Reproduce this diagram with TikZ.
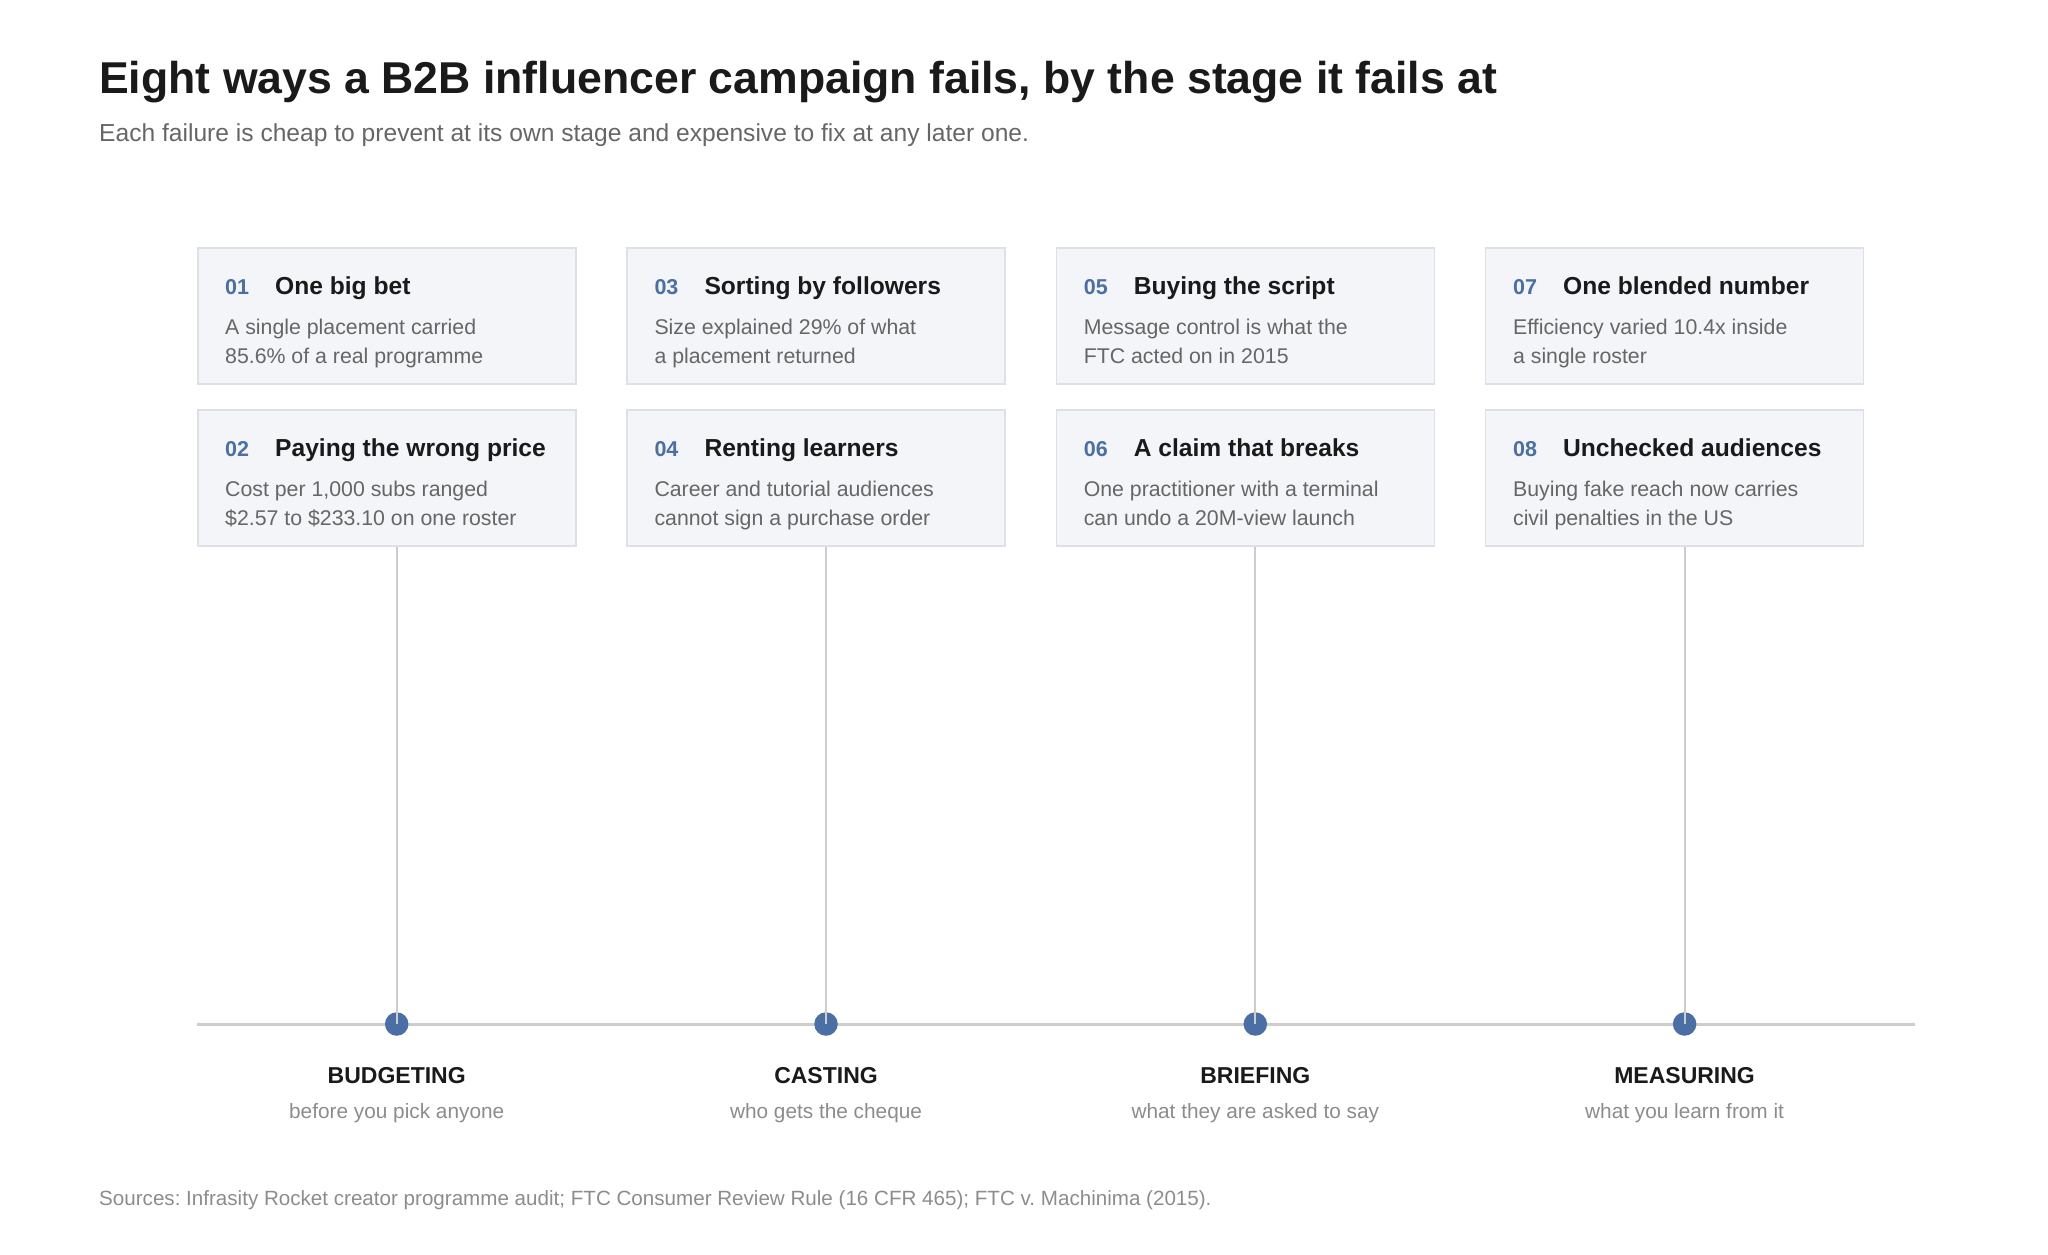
\documentclass[tikz,border=0pt]{standalone}
\usepackage{fontspec}
\setmainfont{Liberation Sans}
\usetikzlibrary{positioning}
\frenchspacing

\definecolor{cardfill}{HTML}{F4F5F9}
\definecolor{cardline}{HTML}{DDE0E6}
\definecolor{numblue}{HTML}{4A6FA5}
\definecolor{inkdark}{HTML}{1A1A1A}
\definecolor{inkbody}{HTML}{666666}
\definecolor{inklight}{HTML}{8C8C8C}
\definecolor{railgray}{HTML}{CDCDCD}

\begin{document}
\begin{tikzpicture}[x=1pt, y=-1pt, inner sep=0pt,
  card/.style={draw=cardline, fill=cardfill, line width=1.5pt, anchor=north west,
    minimum width=378pt, minimum height=136pt},
  num/.style={anchor=base west, text=numblue, font=\fontsize{21.5}{25}\selectfont\bfseries},
  cardtitle/.style={anchor=base west, text=inkdark, font=\fontsize{24.6}{29}\selectfont\bfseries},
  cardbody/.style={anchor=base west, align=left, text=inkbody, font=\fontsize{21.3}{29.3}\selectfont},
  dot/.style={circle, fill=numblue, minimum size=23.5pt},
  rail/.style={draw=railgray, line width=3pt},
  stem/.style={draw=railgray, line width=2pt},
  stagename/.style={anchor=base, text=inkdark, font=\fontsize{23}{27}\selectfont\bfseries},
  stagesub/.style={anchor=base, text=inklight, font=\fontsize{20.8}{25}\selectfont} ]

\useasboundingbox (0,0) rectangle (2048,1255);

% Heading
\node[anchor=base west, text=inkdark, font=\fontsize{44.6}{53}\selectfont\bfseries] (title) at (99,93)
  {Eight ways a B2B influencer campaign fails, by the stage it fails at};
\node[anchor=base west, text=inkbody, font=\fontsize{24.6}{29}\selectfont] (subtitle) at (99,141)
  {Each failure is cheap to prevent at its own stage and expensive to fix at any later one.};

% Failure cards
\foreach \c/\r/\k/\ttl/\la/\lb in {
  0/0/01/One big bet/A single placement carried/85.6\% of a real programme,
  0/1/02/Paying the wrong price/Cost per 1{,}000 subs ranged/\$2.57 to \$233.10 on one roster,
  1/0/03/Sorting by followers/Size explained 29\% of what/a placement returned,
  1/1/04/Renting learners/Career and tutorial audiences/cannot sign a purchase order,
  2/0/05/Buying the script/Message control is what the/FTC acted on in 2015,
  2/1/06/A claim that breaks/One practitioner with a terminal/can undo a 20M-view launch,
  3/0/07/One blended number/Efficiency varied 10.4x inside/a single roster,
  3/1/08/Unchecked audiences/Buying fake reach now carries/civil penalties in the US} {
  \node[card] (card\k) at (197+\c*429.3, 247+\r*162) {};
  \node[num] (num\k) at ([xshift=28pt, yshift=-47pt]card\k.north west) {\k};
  \node[cardtitle] (ttl\k) at ([xshift=78pt, yshift=-47pt]card\k.north west) {\ttl};
  % base anchor sits on the last line
  \node[cardbody] (body\k) at ([xshift=28pt, yshift=-116.3pt]card\k.north west) {\la\\\lb};
}

% Stage rail
\coordinate (railL) at (197,1024);
\coordinate (railR) at (1915,1024);
\draw[rail] (railL) -- (railR);

% Stages
\foreach \s/\sub/\k [count=\i] in {BUDGETING/before you pick anyone/02,
  CASTING/who gets the cheque/04, BRIEFING/what they are asked to say/06,
  MEASURING/what you learn from it/08} {
  \node[dot] (dot\i) at (396.7+\i*429.3-429.3, 1024) {};
  \draw[stem] (dot\i.center) -- (dot\i |- card\k.south);
  \node[stagename] (stage\i) at ([yshift=-59pt]dot\i.center) {\s};
  \node[stagesub] (stagesub\i) at ([yshift=-94pt]dot\i.center) {\sub};
}

% Sources
\node[anchor=base west, text=inklight, font=\fontsize{20.6}{24}\selectfont] (sources) at (99,1205)
  {Sources: Infrasity Rocket creator programme audit; FTC Consumer Review Rule (16 CFR 465); FTC v. Machinima (2015).};

\end{tikzpicture}
\end{document}
